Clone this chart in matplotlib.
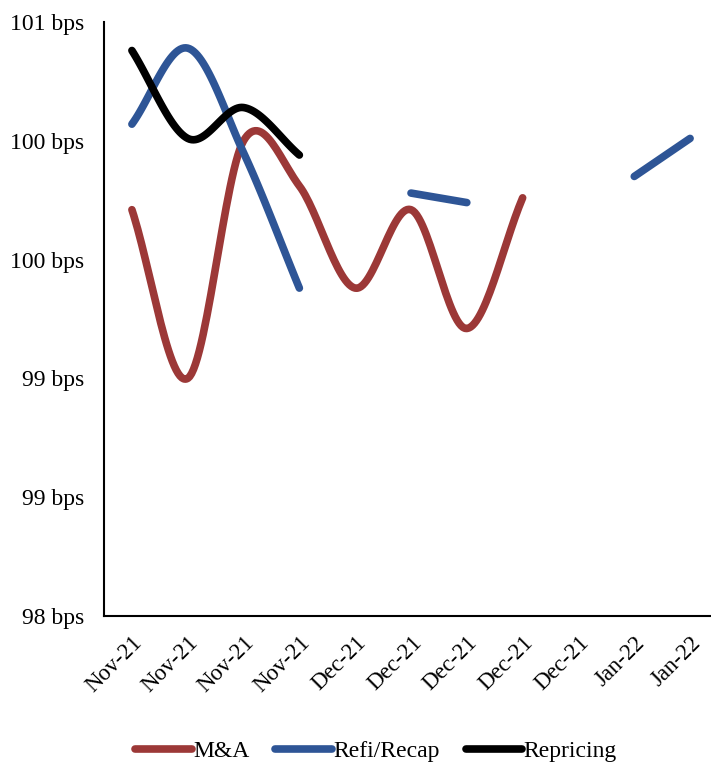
import numpy as np
import matplotlib
matplotlib.use("Agg")
import matplotlib.pyplot as plt
from matplotlib.ticker import FixedLocator, FuncFormatter

plt.rcParams['font.family'] = ['Liberation Serif', 'DejaVu Serif']

# spread by deal purpose (bps), NaN where no deal priced
months = ['Nov-21', 'Nov-21', 'Nov-21', 'Nov-21', 'Dec-21', 'Dec-21',
          'Dec-21', 'Dec-21', 'Dec-21', 'Jan-22', 'Jan-22']
nan = np.nan
mna = [100.21, 99.50, 100.50, 100.31, 99.88, 100.21, 99.71, 100.26, nan, nan, nan]
refi = [100.57, 100.89, 100.45, 99.88, nan, 100.28, 100.24, nan, nan, 100.35, 100.51]
repricing = [100.88, 100.51, 100.64, 100.44, nan, nan, nan, nan, nan, nan, nan]

series = [('M&A', mna, '#9C3837'),
          ('Refi/Recap', refi, '#2E5596'),
          ('Repricing', repricing, '#000000')]


def smooth_runs(vals, steps=30):
    """Split a series at gaps and smooth each run like a spreadsheet line."""
    vals = np.asarray(vals, dtype=float)
    idx = np.arange(len(vals))
    ok = ~np.isnan(vals)
    runs = []
    start = None
    for i in range(len(vals) + 1):
        if i < len(vals) and ok[i]:
            if start is None:
                start = i
        elif start is not None:
            runs.append((idx[start:i], vals[start:i]))
            start = None
    out = []
    for xs, ys in runs:
        n = len(xs)
        if n < 2:
            out.append((xs, ys))
            continue
        # catmull-rom tangents, plain difference at the ends
        tang = np.zeros(n)
        for i in range(n):
            if 0 < i < n - 1:
                tang[i] = (ys[i + 1] - ys[i - 1]) / 2
            elif i == 0:
                tang[i] = ys[1] - ys[0]
            else:
                tang[i] = ys[-1] - ys[-2]
        px, py = [], []
        t = np.linspace(0, 1, steps)
        for i in range(n - 1):
            p0, p3 = ys[i], ys[i + 1]
            p1 = p0 + tang[i] / 3
            p2 = p3 - tang[i + 1] / 3
            by = ((1 - t) ** 3 * p0 + 3 * (1 - t) ** 2 * t * p1
                  + 3 * (1 - t) * t ** 2 * p2 + t ** 3 * p3)
            bx = xs[i] + t * (xs[i + 1] - xs[i])
            px.extend(bx)
            py.extend(by)
        out.append((np.array(px), np.array(py)))
    return out


fig = plt.figure(figsize=(7.11, 7.63), dpi=100)
ax = fig.add_axes([104 / 711, 147 / 763, 614 / 711, 594 / 763])

handles = []
for name, vals, col in series:
    for k, (sx, sy) in enumerate(smooth_runs(vals)):
        ln, = ax.plot(sx, sy, color=col, lw=5.5, solid_capstyle='round',
                      label=name if k == 0 else None)
        if k == 0:
            handles.append(ln)

ax.set_xlim(-0.5, len(months) - 0.5)
ax.set_ylim(98.5, 101)
ax.yaxis.set_major_locator(FixedLocator(np.arange(98.5, 101.01, 0.5)))
ax.yaxis.set_major_formatter(FuncFormatter(lambda v, _: f"{int(v)} bps"))
ax.set_xticks(range(len(months)))
ax.set_xticklabels(months, rotation=45, ha='right', rotation_mode='anchor',
                   fontsize=16.5)
ax.tick_params(axis='y', length=0, pad=14, labelsize=17)
ax.tick_params(axis='x', length=0, pad=12)

for s in ['top', 'right']:
    ax.spines[s].set_visible(False)
for s in ['left', 'bottom']:
    ax.spines[s].set_linewidth(1.5)
    ax.spines[s].set_color('black')

fig.legend(handles=handles, loc='center', bbox_to_anchor=(376 / 711, 12 / 763),
           ncol=3, frameon=False, fontsize=17, handlelength=2.4,
           handletextpad=0.05, columnspacing=1.1)

fig.savefig('out.png', dpi=100)
